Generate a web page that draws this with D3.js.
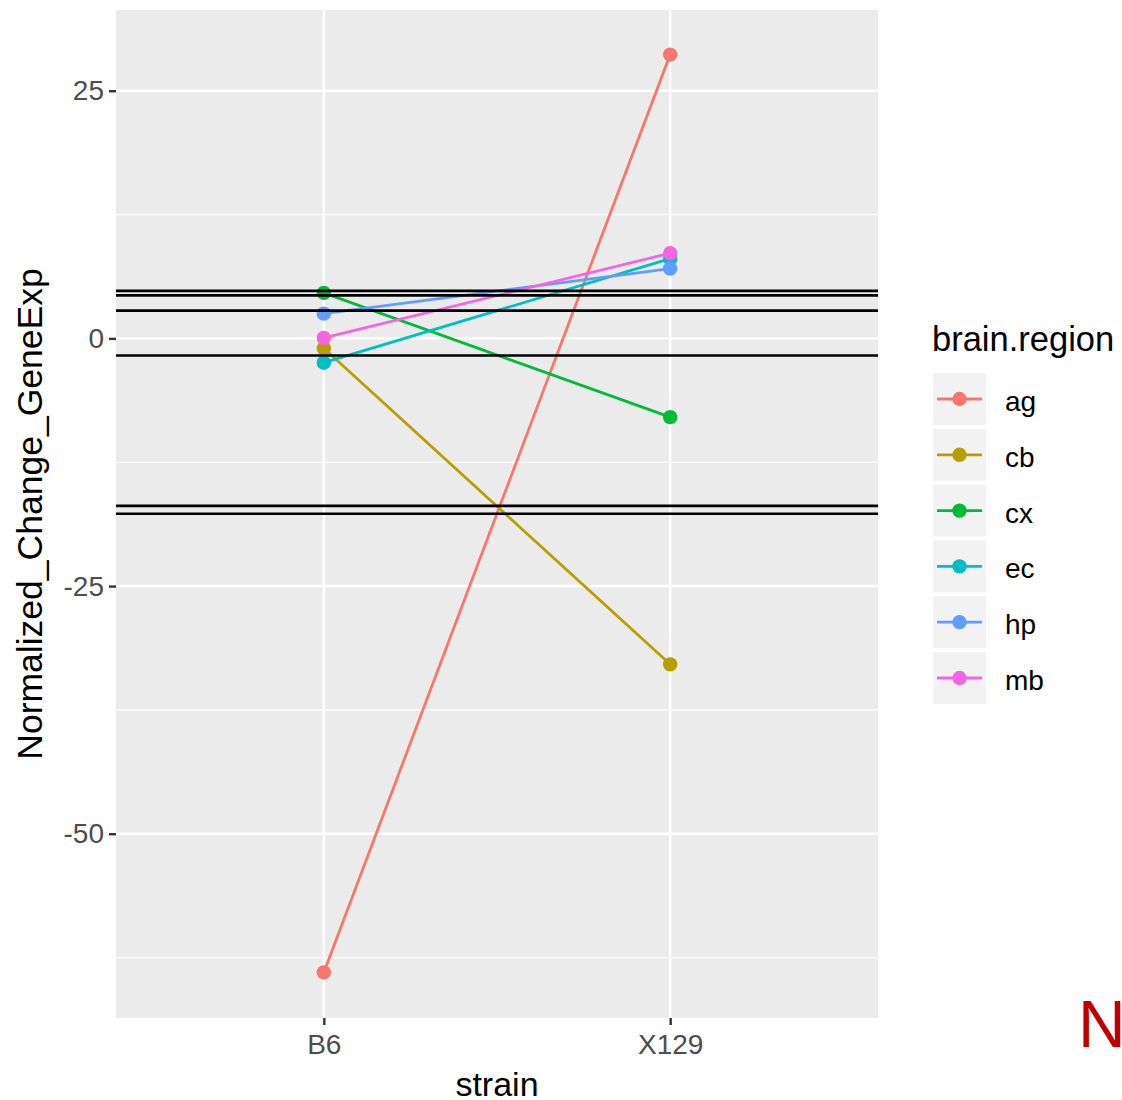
<!DOCTYPE html>
<html><head><meta charset="utf-8">
<script src="https://d3js.org/d3.v7.min.js"></script>
<style>body{margin:0;background:#fff}svg{display:block;font-family:"Liberation Sans",Arial,sans-serif}</style>
</head><body>
<script>
const strains = ["B6", "X129"];
const regions = ["ag", "cb", "cx", "ec", "hp", "mb"];
const colors = ["#F8766D", "#B79F00", "#00BA38", "#00BFC4", "#619CFF", "#F564E3"];
const valuesB6 = [-64.0, -1.0, 4.6, -2.45, 2.5, 0.05];
const valuesX129 = [28.65, -32.9, -7.95, 8.05, 7.05, 8.6];
const hlines = [4.8, 4.34, 2.8, -1.72, -16.9, -17.7];
const yTicks = [25, 0, -25, -50];
const yMinor = [12.5, -12.5, -37.5, -62.5];

const W = 1122, H = 1100;
const svg = d3.select("body").append("svg").attr("width", W).attr("height", H);
const P = {l: 116, r: 878, t: 10, b: 1018};

// discrete expand 0.6 each side
const x = d3.scalePoint().domain(strains).range([P.l, P.r]).padding(0.6);
const xpos = s => x(s);
const y = d3.scaleLinear().domain([-68.6, 33.15]).range([P.b, P.t]);

svg.append("rect").attr("x", P.l).attr("y", P.t).attr("width", P.r - P.l).attr("height", P.b - P.t).attr("fill", "#EBEBEB");

const g = svg.append("g");
g.selectAll(".minor").data(yMinor).join("line")
  .attr("x1", P.l).attr("x2", P.r).attr("y1", d => y(d)).attr("y2", d => y(d))
  .attr("stroke", "#fff").attr("stroke-width", 1.2);
g.selectAll(".major").data(yTicks).join("line")
  .attr("x1", P.l).attr("x2", P.r).attr("y1", d => y(d)).attr("y2", d => y(d))
  .attr("stroke", "#fff").attr("stroke-width", 2.4);
g.selectAll(".vmajor").data(strains).join("line")
  .attr("x1", d => xpos(d)).attr("x2", d => xpos(d)).attr("y1", P.t).attr("y2", P.b)
  .attr("stroke", "#fff").attr("stroke-width", 2.4);

// axes ticks
const yAxis = d3.axisLeft(y).tickValues(yTicks).tickFormat(d => String(d)).tickSize(7).tickPadding(5);
const ya = svg.append("g").attr("transform", `translate(${P.l},0)`).call(yAxis);
ya.select(".domain").remove();
ya.selectAll("line").attr("stroke", "#333").attr("stroke-width", 2.4);
ya.selectAll("text").attr("fill", "#4D4D4D").attr("font-size", 28).attr("font-family", "Liberation Sans, Arial, sans-serif");

const xAxis = d3.axisBottom(x).tickSize(7).tickPadding(8);
const xa = svg.append("g").attr("transform", `translate(0,${P.b})`).call(xAxis);
xa.select(".domain").remove();
xa.selectAll("line").attr("stroke", "#333").attr("stroke-width", 2.4);
xa.selectAll("text").attr("fill", "#4D4D4D").attr("font-size", 28).attr("font-family", "Liberation Sans, Arial, sans-serif").attr("dy", "0.75em");

// series
const series = regions.map((r, i) => ({region: r, color: colors[i], pts: [{s: "B6", v: valuesB6[i]}, {s: "X129", v: valuesX129[i]}]}));
const line = d3.line().x(d => xpos(d.s)).y(d => y(d.v));
g.selectAll(".ser").data(series).join("path")
  .attr("d", d => line(d.pts)).attr("fill", "none").attr("stroke", d => d.color).attr("stroke-width", 2.8);
series.forEach(sr => {
  g.selectAll(null).data(sr.pts).join("circle")
    .attr("cx", d => xpos(d.s)).attr("cy", d => y(d.v)).attr("r", 7.2).attr("fill", sr.color);
});

// hlines
g.selectAll(".hl").data(hlines).join("line")
  .attr("x1", P.l).attr("x2", P.r).attr("y1", d => y(d)).attr("y2", d => y(d))
  .attr("stroke", "#000").attr("stroke-width", 2.6);

// axis titles
svg.append("text").attr("x", (P.l + P.r) / 2).attr("y", 1096).attr("text-anchor", "middle")
  .attr("font-size", 34).attr("fill", "#000").text("strain");
svg.append("text").attr("transform", `translate(42,${(P.t + P.b) / 2}) rotate(-90)`).attr("text-anchor", "middle")
  .attr("font-size", 35.5).attr("fill", "#000").text("Normalized_Change_GeneExp");

// legend
const lg = svg.append("g");
lg.append("text").attr("x", 932).attr("y", 351).attr("font-size", 34.5).attr("fill", "#000").text("brain.region");
const items = lg.selectAll(".it").data(series).join("g")
  .attr("transform", (d, i) => `translate(933,${373 + i * 55.8})`);
items.append("rect").attr("width", 53).attr("height", 52).attr("fill", "#F2F2F2");
items.append("line").attr("x1", 4).attr("x2", 49).attr("y1", 26).attr("y2", 26).attr("stroke", d => d.color).attr("stroke-width", 2.8);
items.append("circle").attr("cx", 26.5).attr("cy", 26).attr("r", 7.2).attr("fill", d => d.color);
items.append("text").attr("x", 72).attr("y", 28).attr("dy", "0.36em").attr("font-size", 28).attr("fill", "#000").text(d => d.region);

// stray red letter
svg.append("text").attr("x", 1078).attr("y", 1047).attr("font-size", 66).attr("fill", "#C00000").text("N");
</script>
</body></html>
